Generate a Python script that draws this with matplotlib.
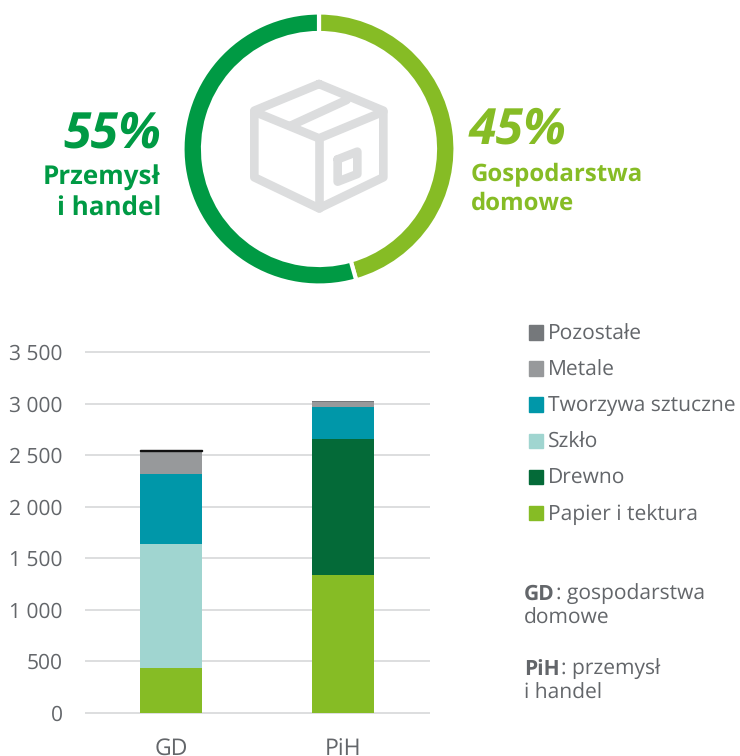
import matplotlib
matplotlib.use('Agg')
import matplotlib.pyplot as plt
from matplotlib.patches import Patch

plt.rcParams['font.family'] = ['Open Sans', 'DejaVu Sans']
plt.rcParams['text.hinting'] = 'no_hinting'
plt.rcParams['text.hinting_factor'] = 1

W, H = 740, 756

# donut
donut_labels = ['Gospodarstwa domowe', 'Przemysł i handel']
donut_shares = [45.6, 54.4]
donut_colors = ['#86BC25', '#009A44']

# stacked bars
categories = ['GD', 'PiH']
series_names = ['Papier i tektura', 'Drewno', 'Szkło', 'Tworzywa sztuczne', 'Metale', 'Pozostałe']
papier = [432, 1335]
drewno = [0, 1320]
szklo = [1205, 0]
tworzywa = [680, 311]
metale = [222, 53]
pozostale = [12, 10]
series_values = [papier, drewno, szklo, tworzywa, metale, pozostale]
series_colors = ['#86BC25', '#046A38', '#A0D5D0', '#0097A9', '#97999B', '#75787B']
yticks = [0, 500, 1000, 1500, 2000, 2500, 3000, 3500]
ytick_labels = ['0', '500', '1 000', '1 500', '2 000', '2 500', '3 000', '3 500']

TEXT = '#63666A'
GRID = '#DDDEDF'


def px_axes(fig, left, top, right, bottom):
    return fig.add_axes([left / W, 1 - bottom / H, (right - left) / W, (bottom - top) / H])


fig = plt.figure(figsize=(W / 100, H / 100), dpi=100)

# Overlay in pixel coordinates for the icon and free text
over = fig.add_axes([0, 0, 1, 1])
over.set_xlim(0, W)
over.set_ylim(H, 0)
over.axis('off')

# Donut, white edge eats 2px on each side so the wedge is drawn a bit larger
cx, cy, r = 319, 149, 136.5
dax = px_axes(fig, cx - r, cy - r, cx + r, cy + r)
dax.pie(donut_shares, colors=donut_colors, startangle=90, counterclock=False, radius=1,
        wedgeprops=dict(width=20.5 / r, edgecolor='white', linewidth=3))
dax.set_xlim(-1, 1)
dax.set_ylim(-1, 1)


# Box icon, outline (zoom coords)
def icon(pts, closed=False):
    xs = [170 + p[0] / 3 for p in pts]
    ys = [p[1] / 3 for p in pts]
    if closed:
        xs.append(xs[0])
        ys.append(ys[0])
    over.plot(xs, ys, color='#DCDDDE', lw=6.2, solid_joinstyle='round', solid_capstyle='round')


icon([(447, 252), (640, 332), (640, 532), (447, 625), (253, 532), (253, 332)], closed=True)
icon([(253, 335), (447, 415), (640, 335)])
icon([(447, 415), (447, 625)])
icon([(362, 377), (530, 300)])
icon([(503, 478), (562, 455), (562, 522), (503, 545)], closed=True)

# Donut labels
over.text(161, 135, '55%', color='#009A44', fontsize=36, fontweight='bold', fontstyle='italic',
          ha='right', va='center')
over.text(161, 193.5, 'Przemysł\ni handel', color='#009A44', fontsize=18.8, fontweight='bold',
          ha='right', va='center', linespacing=1.25)
over.text(469, 131, '45%', color='#86BC25', fontsize=36, fontweight='bold', fontstyle='italic',
          ha='left', va='center')
over.text(471, 189.5, 'Gospodarstwa\ndomowe', color='#86BC25', fontsize=17.3, fontweight='bold',
          ha='left', va='center', linespacing=1.27)

# Stacked bars
ax = px_axes(fig, 85.5, 352, 428.5, 712.5)
bottoms = [0, 0]
bars = []
for values, color in zip(series_values, series_colors):
    b = ax.bar(categories, values, width=0.36, bottom=bottoms, color=color, zorder=3)
    bars.append(b)
    bottoms = [s + v for s, v in zip(bottoms, values)]
bars[-1][0].set_color('#111111')

ax.set_xlim(-0.5, 1.5)
ax.set_ylim(0, 3500)
ax.set_yticks(yticks)
ax.set_yticklabels(ytick_labels)
ax.grid(axis='y', color=GRID, linewidth=1.44, zorder=0, clip_on=False)
ax.set_axisbelow(True)
ax.tick_params(length=0, labelsize=15, labelcolor=TEXT)
ax.tick_params(axis='y', pad=16.3)
ax.tick_params(axis='x', pad=18, labelsize=16.5)
for s in ax.spines.values():
    s.set_visible(False)
ax.patch.set_visible(False)

# Legend
handles = [Patch(color=c, label=n) for c, n in zip(series_colors, series_names)][::-1]
leg = fig.legend(handles=handles, loc='upper left', bbox_to_anchor=(529 / W, 1 - 324 / H),
                 frameon=False, fontsize=15.4, labelcolor=TEXT, borderpad=0, borderaxespad=0,
                 handlelength=0.65, handleheight=0.65, handletextpad=0.25, labelspacing=0.705)

# Notes
over.text(524, 600, 'GD', color=TEXT, fontsize=15.4, fontweight='bold')
over.text(555.5, 600, ': gospodarstwa', color=TEXT, fontsize=15.4)
over.text(524, 624, 'domowe', color=TEXT, fontsize=15.4)
over.text(524, 675, 'PiH', color=TEXT, fontsize=15.4, fontweight='bold')
over.text(561, 675, ': przemysł', color=TEXT, fontsize=15.4)
over.text(524, 699, 'i handel', color=TEXT, fontsize=15.4)

fig.savefig('out.png', dpi=100)
plt.close(fig)
